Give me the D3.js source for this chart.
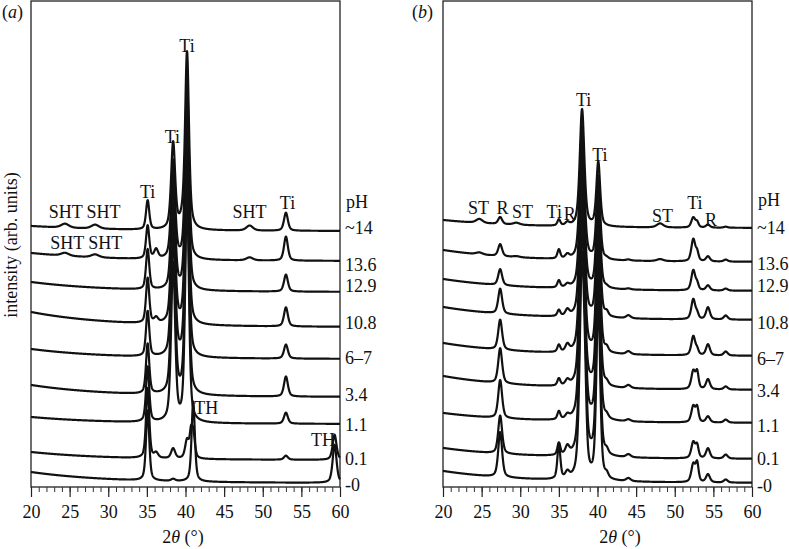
<!DOCTYPE html>
<html><head><meta charset="utf-8">
<script src="https://cdn.jsdelivr.net/npm/d3@7/dist/d3.min.js"></script>
<style>
html,body{margin:0;padding:0;background:#fff;}
svg text{font-family:"Liberation Serif","DejaVu Serif",serif;fill:#111;}
</style></head>
<body>
<svg id="c" width="789" height="549"></svg>
<script>
// ---------------- DATA ----------------
const pHLabels = ["~14","13.6","12.9","10.8","6–7","3.4","1.1","0.1","-0"];
const xTicks = [20,25,30,35,40,45,50,55,60];

// Panel (a)
const peaksA = [24.4, 28.3, 35.1, 36.2, 38.4, 40.0, 40.2, 40.7, 41.0, 48.3, 53.0, 59.3];
const widthsA = [1.2, 1.2, 0.5, 0.6, 0.62, 1.2, 0.58, 0.4, 0.5, 1.0, 0.6, 0.6];
const heightsA = [
  [4, 4, 29, 0, 86, 14, 165, 0, 0, 5, 18, 0],
  [3, 3, 33, 9, 98, 0, 175, 0, 0, 3, 24, 0],
  [0, 0, 40, 0, 113, 0, 185, 0, 0, 0, 17, 0],
  [0, 0, 45, 5, 130, 0, 200, 0, 0, 0, 19, 0],
  [0, 0, 45, 0, 145, 0, 212, 0, 0, 0, 14, 0],
  [0, 0, 50, 0, 160, 0, 228, 0, 0, 0, 20, 0],
  [0, 0, 55, 0, 158, 0, 226, 0, 0, 0, 11, 0],
  [0, 0, 70, 5, 10, 0, 18, 20, 25, 0, 4, 25],
  [0, 0, 70, 0, 2, 0, 0, 0, 80, 0, 0, 38]
];
const baseA = [231, 261, 292, 327, 359, 397, 424, 460, 483];
const riseA = [5, 8, 10, 15, 10, 12, 7, 8, 11];

// Panel (b)
const peaksB = [24.7, 27.4, 29.5, 35.0, 36.1, 38.0, 38.4, 40.1, 41.2, 44.0, 48.1, 52.4, 52.9, 54.3, 56.6];
const widthsB = [1.0, 0.6, 1.0, 0.45, 0.6, 0.7, 0.45, 0.58, 0.5, 0.7, 1.0, 0.6, 0.45, 0.6, 0.6];
const heightsB = [
  [4, 7, 2, 6, 3, 117, 0, 64, 0, 0, 4, 10, 5, 3, 1],
  [2, 12, 1, 9, 4, 133, 0, 83, 1, 1, 2, 22, 8, 5, 2],
  [0, 16, 0, 7, 3, 148, 0, 103, 1, 1, 0, 20, 6, 5, 2],
  [0, 25, 0, 6, 6, 167, 0, 122, 4, 3, 0, 20, 5, 12, 4],
  [0, 30, 0, 7, 7, 187, 0, 142, 4, 3, 0, 19, 5, 11, 4],
  [0, 35, 0, 7, 5, 207, 0, 162, 3, 3, 0, 18, 16, 10, 3],
  [0, 38, 0, 8, 4, 220, 20, 175, 3, 2, 0, 16, 14, 6, 3],
  [0, 38, 0, 12, 8, 225, 40, 185, 4, 3, 0, 16, 12, 10, 4],
  [0, 45, 0, 35, 6, 220, 40, 180, 4, 3, 0, 18, 18, 8, 3]
];
const baseB = [228, 262, 291, 320, 356, 390, 423, 459, 483];
const riseB = [8, 12, 12, 13, 13, 14, 10, 11, 12];

const labelsA = [
  {t:"SHT", x:24.5, y:212}, {t:"SHT", x:29.4, y:212},
  {t:"SHT", x:24.7, y:243}, {t:"SHT", x:29.6, y:243},
  {t:"Ti", x:35.1, y:192}, {t:"Ti", x:38.3, y:137}, {t:"Ti", x:40.2, y:46},
  {t:"SHT", x:48.3, y:212}, {t:"Ti", x:53.2, y:203},
  {t:"TH", x:42.7, y:408}, {t:"TH", x:57.8, y:440}
];
const labelsB = [
  {t:"ST", x:24.6, y:208}, {t:"R", x:27.7, y:208}, {t:"ST", x:30.3, y:212},
  {t:"Ti", x:34.4, y:212}, {t:"R", x:36.4, y:214},
  {t:"Ti", x:38.2, y:100}, {t:"Ti", x:40.3, y:155},
  {t:"ST", x:48.4, y:216}, {t:"Ti", x:52.6, y:203}, {t:"R", x:54.7, y:220}
];
const pHyA = [228, 265, 286, 323, 358, 395, 425, 459, 485];
const pHyB = [228, 264, 286, 323, 359, 391, 426, 459, 486];
const titleX = [183, 620];

// ---------------- DRAW ----------------
const svg = d3.select("#c");
const frameTop = 1, frameBottom = 487;
const panels = [
  {x0:31, x1:340, peaks:peaksA, widths:widthsA, heights:heightsA, base:baseA, rise:riseA, labels:labelsA, pHy:pHyA, tag:"a", tagX:2, pHpos:202, tx:titleX[0]},
  {x0:443, x1:752, peaks:peaksB, widths:widthsB, heights:heightsB, base:baseB, rise:riseB, labels:labelsB, pHy:pHyB, tag:"b", tagX:412, pHpos:200, tx:titleX[1]}
];

function pv(x, c, w, h){
  const d = (x - c) / w;
  const eta = 0.5;
  return h * (eta / (1 + 4 * d * d) + (1 - eta) * Math.exp(-4 * Math.LN2 * d * d));
}

panels.forEach(p => {
  const xs = d3.scaleLinear().domain([20, 60]).range([p.x0, p.x1]);
  const ys = d3.scaleLinear().domain([0, frameBottom]).range([frameBottom, 0]);
  const g = svg.append("g");

  g.append("rect").attr("x", p.x0).attr("y", frameTop)
    .attr("width", p.x1 - p.x0).attr("height", frameBottom - frameTop)
    .attr("fill", "none").attr("stroke", "#222").attr("stroke-width", 1.3);

  const grid = d3.range(20, 60.0001, 0.01);
  const line = d3.line().x(d => xs(d[0])).y(d => ys(d[1]));
  p.base.forEach((b, i) => {
    const off = frameBottom - b;
    const pts = grid.map(x => {
      let v = off + p.rise[i] * Math.exp(-(x - 20) / 10);
      p.peaks.forEach((c, k) => {
        const h = p.heights[i][k];
        if (h) v += pv(x, c, p.widths[k], h);
      });
      return [x, v];
    });
    g.append("path").attr("d", line(pts)).attr("fill", "none")
      .attr("stroke", "#111").attr("stroke-width", 2.2).attr("stroke-linejoin", "round");
  });

  const ax = g.append("g").attr("transform", `translate(0,${frameBottom})`);
  ax.call(d3.axisBottom(xs).tickValues(d3.range(20, 61, 1)).tickSize(5).tickFormat(""));
  ax.select(".domain").remove();
  ax.selectAll("line").attr("stroke", "#333").attr("stroke-width", 1);
  const ax2 = g.append("g").attr("transform", `translate(0,${frameBottom})`);
  ax2.call(d3.axisBottom(xs).tickValues(xTicks).tickSize(10).tickPadding(8));
  ax2.select(".domain").remove();
  ax2.selectAll("line").attr("stroke", "#222").attr("stroke-width", 1.2);
  ax2.selectAll("text").attr("font-size", 18).attr("fill", "#111")
    .style("font-family", "Liberation Serif");

  const t = g.append("text").attr("x", p.tx).attr("y", 543)
    .attr("text-anchor", "middle").attr("font-size", 18);
  t.append("tspan").text("2");
  t.append("tspan").attr("font-style", "italic").text("θ");
  t.append("tspan").text(" (°)");

  g.append("text").attr("x", p.x1 + 6).attr("y", p.pHpos).attr("dy", "0.35em")
    .attr("font-size", 18).text("pH");
  pHLabels.forEach((l, i) => {
    g.append("text").attr("x", p.x1 + 5).attr("y", p.pHy[i]).attr("dy", "0.35em")
      .attr("font-size", 18).text(l);
  });

  p.labels.forEach(l => {
    g.append("text").attr("x", xs(l.x)).attr("y", l.y).attr("dy", "0.35em")
      .attr("text-anchor", "middle").attr("font-size", 18).text(l.t);
  });

  const tg = g.append("text").attr("x", p.tagX).attr("y", 12).attr("dy", "0.35em").attr("font-size", 18);
  tg.append("tspan").text("(");
  tg.append("tspan").attr("font-style", "italic").text(p.tag);
  tg.append("tspan").text(")");
});

svg.append("text").attr("transform", "translate(17,245) rotate(-90)")
  .attr("text-anchor", "middle").attr("font-size", 18).text("intensity (arb. units)");
</script>
</body></html>
